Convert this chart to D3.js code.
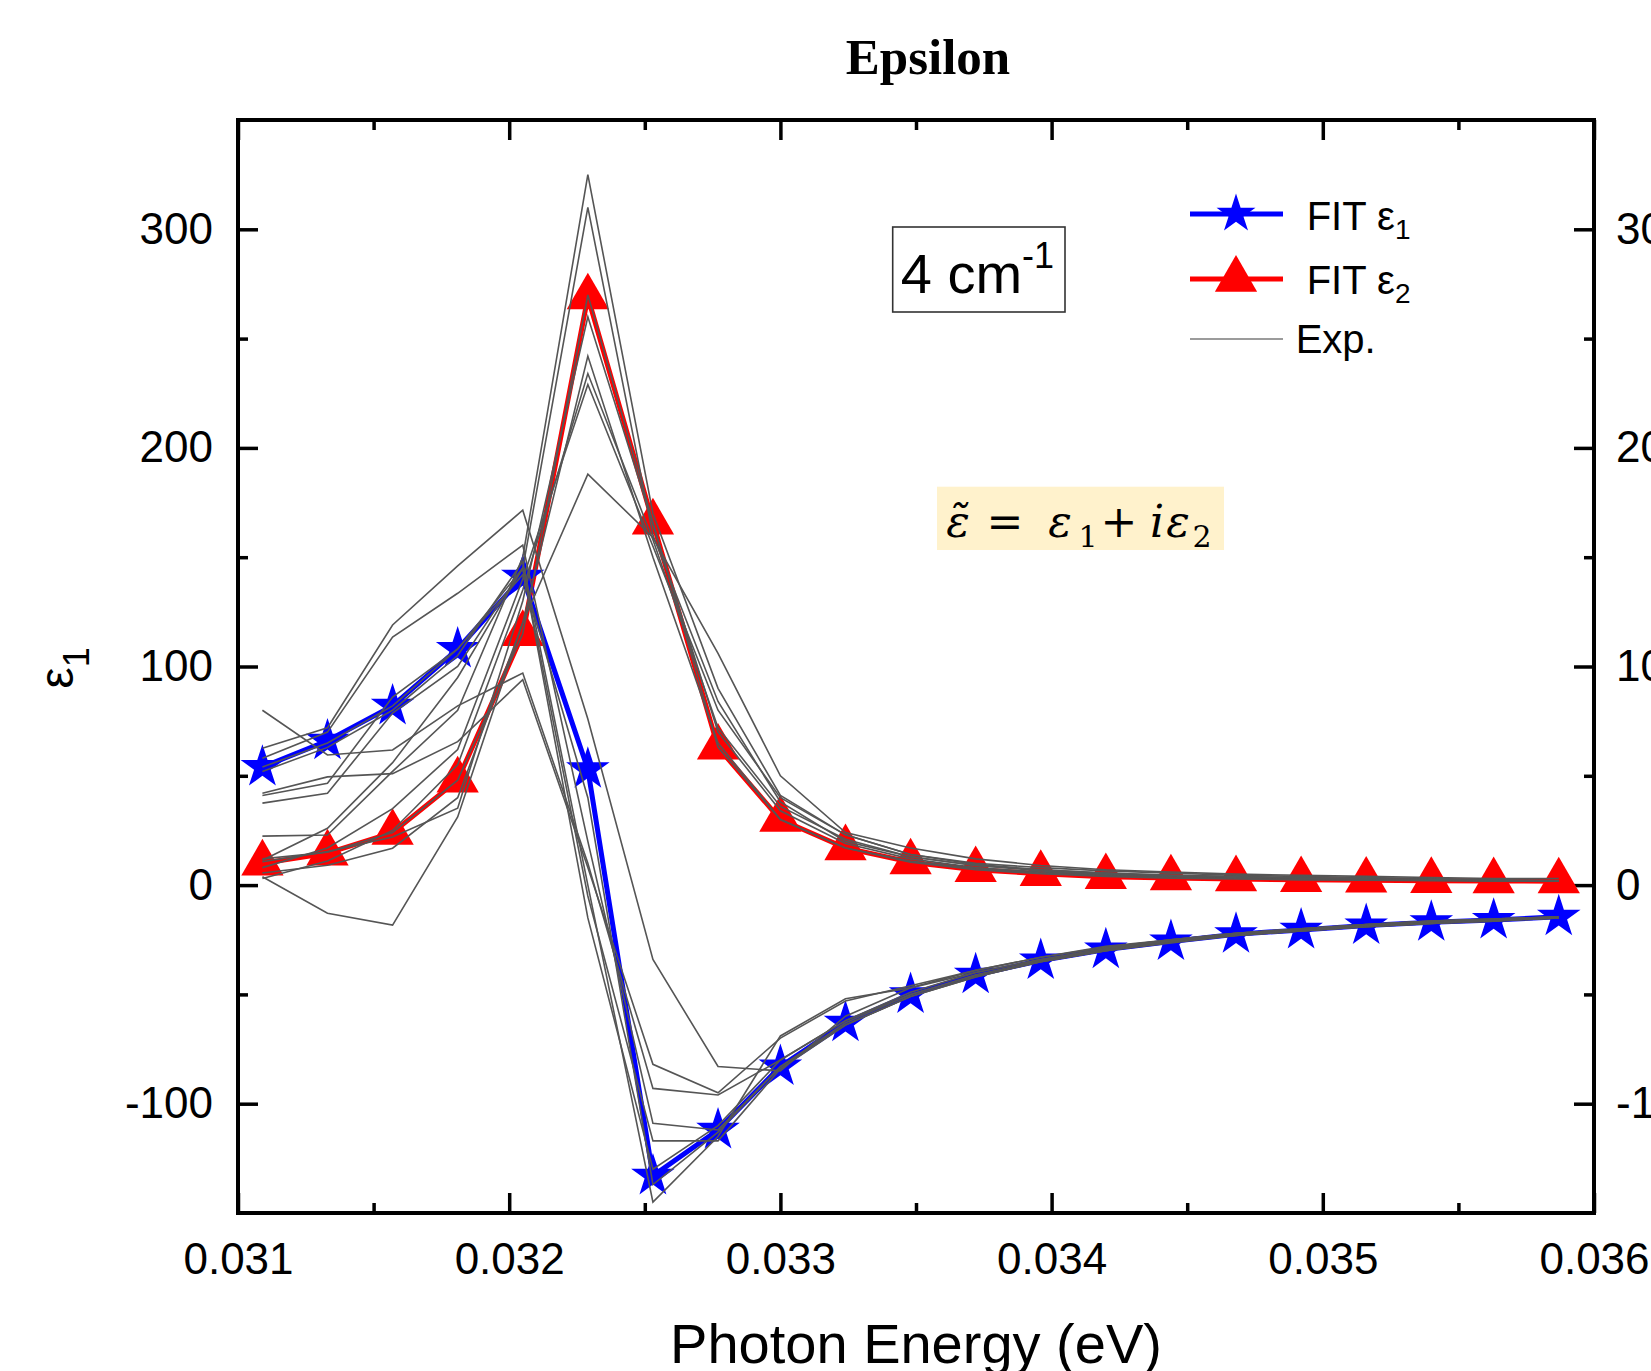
<!DOCTYPE html>
<html>
<head>
<meta charset="utf-8">
<script src="https://cdn.jsdelivr.net/npm/d3@7"></script>
<style>
html, body { margin: 0; padding: 0; background: #ffffff; }
svg { display: block; }
</style>
</head>
<body>
<script>
// ---------- data ----------
const energy = [0.03109, 0.03133, 0.03157, 0.03181, 0.03205, 0.03229, 0.03253, 0.03277, 0.03300, 0.03324,
                0.03348, 0.03372, 0.03396, 0.03420, 0.03444, 0.03468, 0.03492, 0.03516, 0.03540, 0.03563, 0.03587];

const fitEps1 = [54, 66, 82, 108, 141, 53, -133, -112, -83, -63, -50, -41, -34.5, -29.5, -25.8, -22.5, -20.5, -18.5, -17, -16, -14.5];
const fitEps2 = [10, 14.6, 24, 48, 115, 269, 166, 63, 30, 17, 10.5, 7, 5.2, 3.8, 3.2, 2.8, 2.4, 2.2, 2, 1.9, 1.8];

const expEps1 = [
  [80, 59.5, 61.8, 82, 97, 10, -93, -96, -80, -62, -49, -40, -34, -29, -25, -22, -20, -18, -16.5, -15.5, -14.5],
  [62.6, 72, 119, 146, 171.5, 76, -34, -83, -85, -60, -47, -39, -33, -28, -25, -22, -20, -18, -16.5, -15.5, -14.5],
  [58, 70, 113.5, 133.5, 155.5, 20, -109, -112, -83, -64, -51, -42, -35, -30, -26, -23, -21, -19, -17.5, -16.5, -15],
  [42, 49.5, 51, 65.6, 94, 8, -82, -95, -70, -53, -46, -39, -33, -28.5, -25, -22, -20, -18, -16.5, -15.5, -14.5],
  [41, 46.6, 86, 108, 145, -5, -117, -117, -84, -64, -51, -42, -35, -30, -26.5, -23, -21, -19, -17.5, -16.5, -15],
  [37.5, 42, 78.7, 100, 145, -15, -130, -110, -80, -62, -50, -41.5, -35, -30, -26, -23, -21, -19, -17.5, -16, -15],
  [54, 65, 82, 108, 142, 40, -137, -113, -83, -63, -50, -41, -34.5, -29.5, -25.8, -22.5, -20.5, -18.5, -17, -16, -14.5],
  [52, 63, 80, 105, 148, 0, -145, -115, -69, -52, -47, -40, -34, -29, -25.5, -22.5, -20.5, -18.5, -17, -16, -14.8]
];
const expEps2 = [
  [3.8, -12.9, -18.3, 31.2, 120, 188, 159, 106, 50, 24, 17, 12, 9, 7, 6, 5, 4.5, 4, 3.5, 3, 3],
  [22.4, 22.9, 52, 80, 150, 325, 170, 90, 41, 23, 14, 10, 8, 6.5, 5.5, 4.5, 4, 3.5, 3, 2.5, 2],
  [11.4, 26, 56, 95, 145, 310, 160, 84, 38, 20, 13, 9, 7, 5.5, 4.5, 4, 3.5, 3, 2.5, 2, 2],
  [10.7, 15.3, 22, 35.2, 130, 260, 165, 70, 34, 19, 12, 8, 6, 5, 4, 3.5, 3, 2.5, 2.2, 2, 1.8],
  [5.5, 9.1, 16.9, 40, 120, 242, 150, 65, 30, 17, 11, 7.5, 5.5, 4.5, 3.8, 3.2, 2.8, 2.5, 2.2, 2, 1.8],
  [3, 11, 25, 55, 135, 234, 158, 72, 36, 21, 13, 9, 6.5, 5, 4.2, 3.5, 3, 2.7, 2.4, 2.1, 2],
  [8, 17, 35, 62, 140, 229, 155, 80, 40, 23, 14, 9.5, 7, 5.5, 4.5, 3.8, 3.2, 2.8, 2.5, 2.2, 2],
  [12, 15, 24, 48, 115, 270, 166, 63, 30, 17, 10.5, 7, 5.2, 4, 3.2, 2.8, 2.4, 2.2, 2, 1.9, 1.8]
];

const xMajorTicks = [0.031, 0.032, 0.033, 0.034, 0.035, 0.036];
const xMinorTicks = [0.0315, 0.0325, 0.0335, 0.0345, 0.0355];
const yMajorTicks = [-100, 0, 100, 200, 300];
const yMinorTicks = [-50, 50, 150, 250];

// ---------- layout ----------
const W = 1651, H = 1371;
const L = 238, R = 1594, T = 120, B = 1213;
const sans = "'Liberation Sans', Arial, sans-serif";
const serif = "'Liberation Serif', 'Times New Roman', serif";
const mathFont = "'DejaVu Serif', serif";

const svg = d3.select("body").append("svg").attr("width", W).attr("height", H)
  .style("background", "#fff");

const x = d3.scaleLinear().domain([0.031, 0.036]).range([L, R]);
const y = d3.scaleLinear().domain([-150, 350]).range([B, T]);

// title
svg.append("text").attr("x", 928).attr("y", 74).attr("text-anchor", "middle")
  .style("font-family", serif).style("font-weight", "bold").style("font-size", "51px")
  .text("Epsilon");

// axes
function styleAxis(g, labels) {
  g.select(".domain").remove();
  g.selectAll(".tick line").attr("stroke", "#000").attr("stroke-width", 3.5);
  g.selectAll(".tick text").style("font-family", sans).style("font-size", "44px").attr("fill", "#000");
  if (!labels) g.selectAll(".tick text").remove();
}
const fmtX = d => d3.format(".3f")(d);
const fmtY = d => String(d);

svg.append("g").attr("transform", `translate(0,${B})`)
  .call(d3.axisBottom(x).tickValues(xMajorTicks).tickFormat(fmtX).tickSizeInner(-20).tickSizeOuter(0).tickPadding(30))
  .call(g => styleAxis(g, true));
svg.append("g").attr("transform", `translate(0,${B})`)
  .call(d3.axisBottom(x).tickValues(xMinorTicks).tickSizeInner(-10).tickSizeOuter(0))
  .call(g => styleAxis(g, false));
svg.append("g").attr("transform", `translate(0,${T})`)
  .call(d3.axisTop(x).tickValues(xMajorTicks).tickSizeInner(-20).tickSizeOuter(0))
  .call(g => styleAxis(g, false));
svg.append("g").attr("transform", `translate(0,${T})`)
  .call(d3.axisTop(x).tickValues(xMinorTicks).tickSizeInner(-10).tickSizeOuter(0))
  .call(g => styleAxis(g, false));

svg.append("g").attr("transform", `translate(${L},0)`)
  .call(d3.axisLeft(y).tickValues(yMajorTicks).tickFormat(fmtY).tickSizeInner(-20).tickSizeOuter(0).tickPadding(25))
  .call(g => styleAxis(g, true));
svg.append("g").attr("transform", `translate(${L},0)`)
  .call(d3.axisLeft(y).tickValues(yMinorTicks).tickSizeInner(-10).tickSizeOuter(0))
  .call(g => styleAxis(g, false));
svg.append("g").attr("transform", `translate(${R},0)`)
  .call(d3.axisRight(y).tickValues(yMajorTicks).tickFormat(fmtY).tickSizeInner(-20).tickSizeOuter(0).tickPadding(22))
  .call(g => styleAxis(g, true));
svg.append("g").attr("transform", `translate(${R},0)`)
  .call(d3.axisRight(y).tickValues(yMinorTicks).tickSizeInner(-10).tickSizeOuter(0))
  .call(g => styleAxis(g, false));

// frame
svg.append("rect").attr("x", L).attr("y", T).attr("width", R - L).attr("height", B - T)
  .attr("fill", "none").attr("stroke", "#000").attr("stroke-width", 4);

// axis titles
svg.append("text").attr("x", (L + R) / 2).attr("y", 1363).attr("text-anchor", "middle")
  .style("font-family", sans).style("font-size", "56px").text("Photon Energy (eV)");
const yt = svg.append("text").attr("transform", "translate(73,668) rotate(-90)").attr("text-anchor", "middle")
  .style("font-family", sans).style("font-size", "48px");
yt.append("tspan").text("ε");
yt.append("tspan").attr("dy", 16).style("font-size", "36px").text("1");

// plot area
const plot = svg.append("g");
const line = d3.line().x((d, i) => x(energy[i])).y(d => y(d));

// fit lines
plot.append("path").datum(fitEps2).attr("d", line).attr("fill", "none")
  .attr("stroke", "#ff0000").attr("stroke-width", 5).attr("stroke-linejoin", "round");
plot.append("path").datum(fitEps1).attr("d", line).attr("fill", "none")
  .attr("stroke", "#0000ff").attr("stroke-width", 5).attr("stroke-linejoin", "round");

const triSym = d3.symbol().type(d3.symbolTriangle).size(774);
const starSym = d3.symbol().type(d3.symbolStar).size(590);

plot.append("g").selectAll("path").data(fitEps2).join("path")
  .attr("transform", (d, i) => `translate(${x(energy[i])},${y(d)})`)
  .attr("d", triSym).attr("fill", "#ff0000");
plot.append("g").selectAll("path").data(fitEps1).join("path")
  .attr("transform", (d, i) => `translate(${x(energy[i])},${y(d)})`)
  .attr("d", starSym).attr("fill", "#0000ff");

// experimental curves on top
const expG = plot.append("g");
expG.selectAll("path.e1").data(expEps1).join("path").attr("class", "e1")
  .attr("d", line).attr("fill", "none").attr("stroke", "#555555").attr("stroke-width", 1.6);
expG.selectAll("path.e2").data(expEps2).join("path").attr("class", "e2")
  .attr("d", line).attr("fill", "none").attr("stroke", "#555555").attr("stroke-width", 1.6);

// legend
const lg = svg.append("g");
lg.append("line").attr("x1", 1190).attr("x2", 1283).attr("y1", 214).attr("y2", 214)
  .attr("stroke", "#0000ff").attr("stroke-width", 5);
lg.append("path").attr("transform", "translate(1236,214)").attr("d", d3.symbol().type(d3.symbolStar).size(470)).attr("fill", "#0000ff");
lg.append("line").attr("x1", 1190).attr("x2", 1283).attr("y1", 279).attr("y2", 279)
  .attr("stroke", "#ff0000").attr("stroke-width", 5);
lg.append("path").attr("transform", "translate(1236,279.5)").attr("d", triSym).attr("fill", "#ff0000");
lg.append("line").attr("x1", 1190).attr("x2", 1283).attr("y1", 339).attr("y2", 339)
  .attr("stroke", "#7a7a7a").attr("stroke-width", 1.6);

const legendItems = [
  {t: "FIT ε", s: "1", y: 230, x: 1306.7},
  {t: "FIT ε", s: "2", y: 294, x: 1306.7},
  {t: "Exp.", s: "", y: 352.7, x: 1295.7}
];
legendItems.forEach(it => {
  const t = lg.append("text").attr("x", it.x).attr("y", it.y)
    .style("font-family", sans).style("font-size", "40px").attr("fill", "#000");
  t.append("tspan").text(it.t);
  if (it.s) t.append("tspan").attr("dy", 9).style("font-size", "28px").text(it.s);
});

// "4 cm-1" box
svg.append("rect").attr("x", 892.7).attr("y", 227).attr("width", 172.3).attr("height", 85)
  .attr("fill", "#fff").attr("stroke", "#333").attr("stroke-width", 1.6);
const cm = svg.append("text").attr("x", 900.7).attr("y", 292.7)
  .style("font-family", sans).style("font-size", "56px");
cm.append("tspan").text("4 cm");
cm.append("tspan").attr("dy", -25).style("font-size", "36px").text("-1");

// formula box
svg.append("rect").attr("x", 937).attr("y", 486.7).attr("width", 287).attr("height", 63.3).attr("fill", "#fff2cc");
const fm = svg.append("g").style("font-family", mathFont).attr("fill", "#000");
const base = 536.7;
const parts = [
  {t: "ε\u0303", cx: 958, it: true, fs: 44},
  {t: "=", cx: 1005, it: false, fs: 44},
  {t: "ε", cx: 1060, it: true, fs: 44},
  {t: "+", cx: 1119, it: false, fs: 44},
  {t: "i", cx: 1157, it: true, fs: 44},
  {t: "ε", cx: 1178, it: true, fs: 44}
];
parts.forEach(p => {
  fm.append("text").attr("x", p.cx).attr("y", base).attr("text-anchor", "middle")
    .style("font-size", p.fs + "px").style("font-style", p.it ? "italic" : "normal").text(p.t);
});
fm.append("text").attr("x", 1088).attr("y", base + 10).attr("text-anchor", "middle").style("font-size", "30px").text("1");
fm.append("text").attr("x", 1202).attr("y", base + 10).attr("text-anchor", "middle").style("font-size", "30px").text("2");
</script>
</body>
</html>
